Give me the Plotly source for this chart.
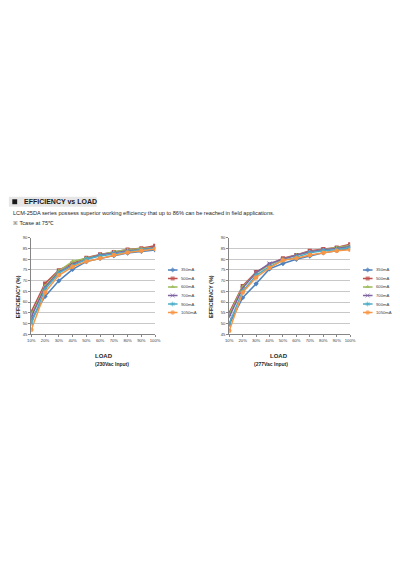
import plotly.graph_objects as go

load_pct = [10, 20, 30, 40, 50, 60, 70, 80, 90, 100]
load_labels = ["10%", "20%", "30%", "40%", "50%", "60%", "70%", "80%", "90%", "100%"]
series_names = ["350mA", "500mA", "600mA", "700mA", "900mA", "1050mA"]

eff_230 = {
    "350mA": [51.7, 62.6, 69.9, 75.3, 78.9, 80.4, 81.7, 82.9, 83.7, 84.3],
    "500mA": [55.5, 68.7, 74.9, 78.1, 80.7, 82.3, 83.4, 84.6, 85.2, 86.3],
    "600mA": [54.0, 67.5, 74.5, 79.0, 80.5, 82.0, 83.5, 84.5, 85.0, 85.5],
    "700mA": [53.0, 67.0, 74.0, 77.5, 80.0, 82.0, 83.0, 84.0, 84.5, 85.5],
    "900mA": [50.0, 66.0, 73.5, 77.0, 80.0, 81.5, 82.5, 83.5, 84.5, 85.0],
    "1050mA": [47.0, 64.5, 72.5, 76.5, 79.0, 80.5, 82.0, 83.2, 84.0, 84.8],
}
eff_277 = {
    "350mA": [49.5, 62.0, 68.5, 75.5, 78.0, 80.0, 81.5, 83.0, 84.0, 85.0],
    "500mA": [55.0, 67.5, 74.0, 77.5, 80.5, 82.0, 84.0, 84.8, 85.5, 87.0],
    "600mA": [54.0, 67.0, 73.5, 77.5, 80.0, 82.0, 83.5, 84.5, 85.3, 86.5],
    "700mA": [53.0, 66.5, 73.8, 78.0, 80.0, 82.0, 83.5, 84.5, 85.0, 86.0],
    "900mA": [50.0, 65.0, 72.5, 76.5, 79.5, 81.0, 83.0, 84.0, 84.5, 85.5],
    "1050mA": [46.5, 64.5, 71.5, 76.0, 79.5, 80.5, 82.0, 83.0, 84.0, 84.5],
}
y_ticks = [45, 50, 55, 60, 65, 70, 75, 80, 85, 90]

colors = ["#4F81BD", "#C0504D", "#9BBB59", "#8064A2", "#4BACC6", "#F79646"]
symbols = ["diamond", "square", "triangle-up", "x-thin-open", "asterisk-open", "circle"]
msizes = [4, 4, 4.5, 4, 4, 4.5]

W, H = 400, 567
def px(x):
    return x / W
def py(y):
    return 1 - y / H

fig = go.Figure()
FONT = "Liberation Sans, Arial, sans-serif"

charts = [
    (eff_230, "x", "y", "x3", "y3", (28, 155), 168, "(230Vac Input)"),
    (eff_277, "x2", "y2", "x4", "y4", (231, 355), 368, "(277Vac Input)"),
]

for data, xa, ya, lxa, lya, (l, r), ll, sub in charts:
    for i, name in enumerate(series_names):
        mk = dict(symbol=symbols[i], size=msizes[i], color=colors[i],
                  line=dict(width=1 if "open" in symbols[i] else 0, color=colors[i]))
        fig.add_trace(go.Scatter(x=load_pct, y=data[name], mode="lines+markers",
                                 line=dict(color=colors[i], width=1.5), marker=mk,
                                 xaxis=xa, yaxis=ya, showlegend=False, name=name))
        # legend sample
        fig.add_trace(go.Scatter(x=[0, 1, 2], y=[-i, -i, -i], mode="lines+markers",
                                 line=dict(color=colors[i], width=1.5),
                                 marker=dict(symbol=symbols[i], size=[0, msizes[i], 0], color=colors[i],
                                             line=dict(width=1 if "open" in symbols[i] else 0, color=colors[i])),
                                 xaxis=lxa, yaxis=lya, showlegend=False, hoverinfo="skip"))
        fig.add_annotation(x=2.2, y=-i, xref=lxa, yref=lya, text=name, showarrow=False,
                           xanchor="left", yanchor="middle", font=dict(size=4.2, color="#404040", family=FONT))

axis_common_x = dict(range=[10, 100], tickmode="array", tickvals=load_pct, ticktext=load_labels,
                     showgrid=False, showline=True, linecolor="#868686", linewidth=1,
                     ticks="outside", ticklen=2, tickcolor="#868686",
                     tickfont=dict(size=4.2, color="#404040", family=FONT), zeroline=False)
axis_common_y = dict(range=[45, 90], tickmode="array", tickvals=y_ticks,
                     showgrid=True, gridcolor="#c8c8c8", gridwidth=1,
                     showline=True, linecolor="#868686", linewidth=1,
                     ticks="outside", ticklen=2, tickcolor="#868686",
                     tickfont=dict(size=4.2, color="#404040", family=FONT), zeroline=False)

ytop, ybot = py(237), py(334)
lg_top, lg_bot = py(265), py(316.6)
fig.update_layout(
    xaxis=dict(domain=[px(28), px(155)], anchor="y", **axis_common_x),
    yaxis=dict(domain=[ybot, ytop], anchor="x", **axis_common_y),
    xaxis2=dict(domain=[px(231), px(355)], anchor="y2", **axis_common_x),
    yaxis2=dict(domain=[ybot, ytop], anchor="x2", **axis_common_y),
    xaxis3=dict(domain=[px(168), px(198)], anchor="y3", range=[0, 6], visible=False),
    yaxis3=dict(domain=[lg_bot, lg_top], anchor="x3", range=[-5.5, 0.5], visible=False),
    xaxis4=dict(domain=[px(368), px(398)], anchor="y4", range=[0, 6], visible=False),
    yaxis4=dict(domain=[lg_bot, lg_top], anchor="x4", range=[-5.5, 0.5], visible=False),
)

for (data, xa, ya, lxa, lya, (l, r), ll, sub) in charts:
    cx = (l + r) / 2
    fig.add_annotation(x=px(cx), y=py(356), xref="paper", yref="paper", text="<b>LOAD</b>",
                       showarrow=False, font=dict(size=6, color="#262626", family=FONT))
    fig.add_annotation(x=px(cx), y=py(364), xref="paper", yref="paper", text="<b>" + sub + "</b>",
                       showarrow=False, font=dict(size=5, color="#262626", family=FONT))
    fig.add_annotation(x=px(l - 18), y=py(296), xref="paper", yref="paper", text="<b>EFFICIENCY (%)</b>",
                       showarrow=False, textangle=-90, font=dict(size=5.5, color="#262626", family=FONT))

# Header block
fig.add_shape(type="rect", xref="paper", yref="paper", x0=px(5), x1=px(95), y0=py(205.5), y1=py(195.5),
              fillcolor="#e6e6e6", line=dict(width=0), layer="below")
fig.add_shape(type="rect", xref="paper", yref="paper", x0=px(8.5), x1=px(13.5), y0=py(203), y1=py(198),
              fillcolor="#1a1a1a", line=dict(width=0))
fig.add_annotation(x=px(18), y=py(200.5), xref="paper", yref="paper",
                   text="<b>EFFICIENCY vs LOAD</b>", showarrow=False, xanchor="left", yanchor="middle",
                   font=dict(size=7, color="#1a1a1a", family=FONT))
fig.add_annotation(x=px(7), y=py(212), xref="paper", yref="paper",
                   text="LCM-25DA series possess superior working efficiency that up to 86% can be reached in field applications.",
                   showarrow=False, xanchor="left", yanchor="middle",
                   font=dict(size=5.6, color="#262626", family=FONT))
fig.add_annotation(x=px(7), y=py(222), xref="paper", yref="paper",
                   text="※ Tcase at 75℃", showarrow=False, xanchor="left", yanchor="middle",
                   font=dict(size=5.6, color="#262626", family=FONT))

fig.update_layout(width=W, height=H, margin=dict(l=0, r=0, t=0, b=0),
                  paper_bgcolor="white", plot_bgcolor="white", showlegend=False)

fig.write_html("out.html")
